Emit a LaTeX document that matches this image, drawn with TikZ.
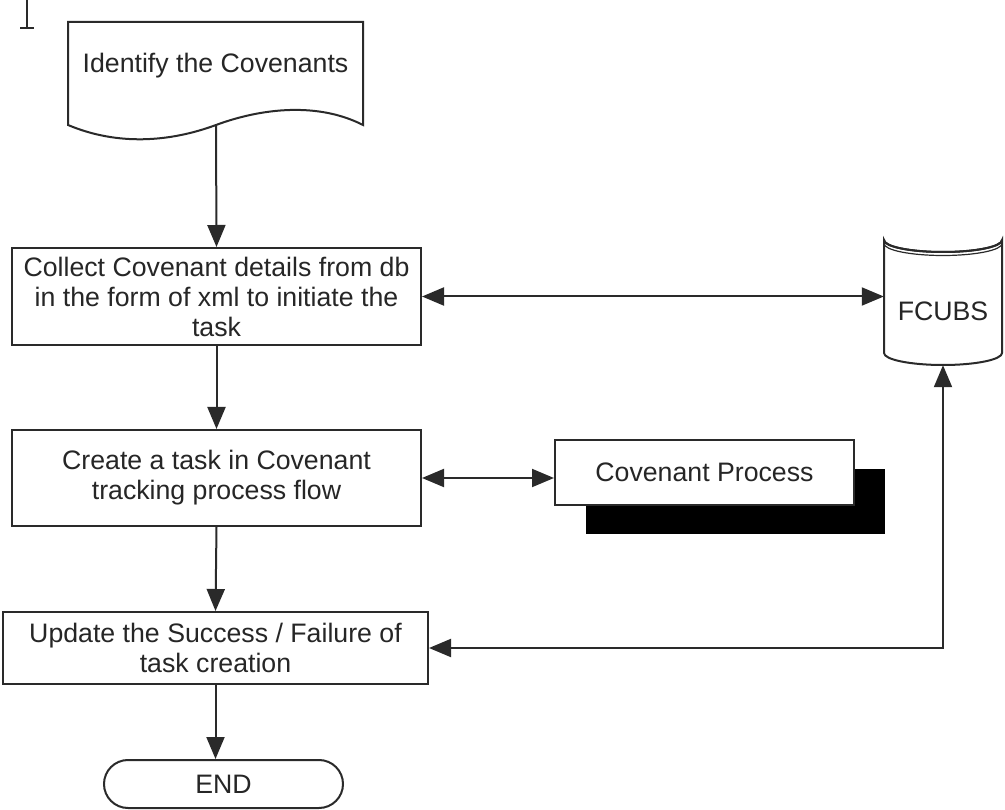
\documentclass[tikz,border=0pt]{standalone}
\usepackage{fontspec}
\setmainfont{Liberation Sans}
\usetikzlibrary{arrows.meta,shadows}
\definecolor{ink}{HTML}{2A2A2A}
\definecolor{txt}{HTML}{262626}
\tikzset{
  box/.style={draw=ink, line width=2pt, fill=white, rectangle, inner sep=0pt, align=center, text=txt,
              font=\fontsize{26.7}{30}\selectfont},
  lbl/.style={inner sep=0pt, align=center, text=txt, font=\fontsize{26.7}{30}\selectfont},
  tipx/.tip={Triangle[length=22pt,width=18pt]},
  conn/.style={draw=ink, line width=2pt, -tipx},
  bconn/.style={draw=ink, line width=2pt, tipx-tipx},
  outl/.style={draw=ink, line width=2pt}
}
\begin{document}
\begin{tikzpicture}[x=1pt,y=-1pt]
\useasboundingbox (0,0) rectangle (1005,810);
% small mark top-left
\draw[outl, line width=1.3pt] (27,0) -- (27,28) (20,28) -- (34,28);
% document shape
\draw[outl, fill=white] (68,22) -- (363,22) -- (363,125)
   .. controls (318,102) and (262,108) .. (216,125)
   .. controls (170,142) and (118,146) .. (68,125) -- cycle;
\node[lbl] (ident) at (215.5,66) {Identify the Covenants};
\coordinate (identb) at (216,125);
% boxes
\node[box, minimum width=409pt, minimum height=97pt] (collect) at (216.5,296.5)
  {Collect Covenant details from db\\in the form of xml to initiate the\\task};
\node[box, minimum width=409pt, minimum height=96pt] (create) at (216.5,478)
  {Create a task in Covenant\\tracking process flow};
\node[box, minimum width=425pt, minimum height=72pt] (update) at (215.5,648)
  {Update the Success / Failure of\\task creation};
\node[box, minimum width=239pt, minimum height=48pt, rounded corners=24pt] (endn) at (223.5,784) {END};
% covenant process with shadow
\node[box, minimum width=299pt, minimum height=65pt,
      general shadow={fill=black, shadow xshift=31pt, shadow yshift=-29pt}] (cp) at (704.5,472.5) {Covenant Process};
% FCUBS cylinder
\node[minimum width=118pt, minimum height=137pt, inner sep=0pt] (fcubs) at (943,296.5) {};
\draw[outl, fill=white] (884,240) -- (884,353) arc[start angle=180, end angle=360, x radius=59, y radius=-12]
   -- (1002,240) arc[start angle=0, end angle=180, x radius=59, y radius=12] -- cycle;
\draw[outl] (884,240) arc[start angle=180, end angle=360, x radius=59, y radius=-12];
\draw[outl, line width=1.2pt] (884,243.5) arc[start angle=180, end angle=360, x radius=59, y radius=-12];
\node[lbl] at (943,311) {FCUBS};
% connectors
\draw[conn] (identb) -- (collect.north);
\draw[conn] (collect.south) -- (create.north);
\draw[conn] (create.south) -- (update.north);
\draw[conn] (update.south) -- (update.south |- endn.north);
\draw[bconn] (collect.east) -- (collect.east -| fcubs.west);
\draw[bconn] (create.east) -- (create.east -| cp.west);
\draw[bconn] (update.east) -- (update.east -| fcubs.south) -- (fcubs.south);
\end{tikzpicture}
\end{document}
